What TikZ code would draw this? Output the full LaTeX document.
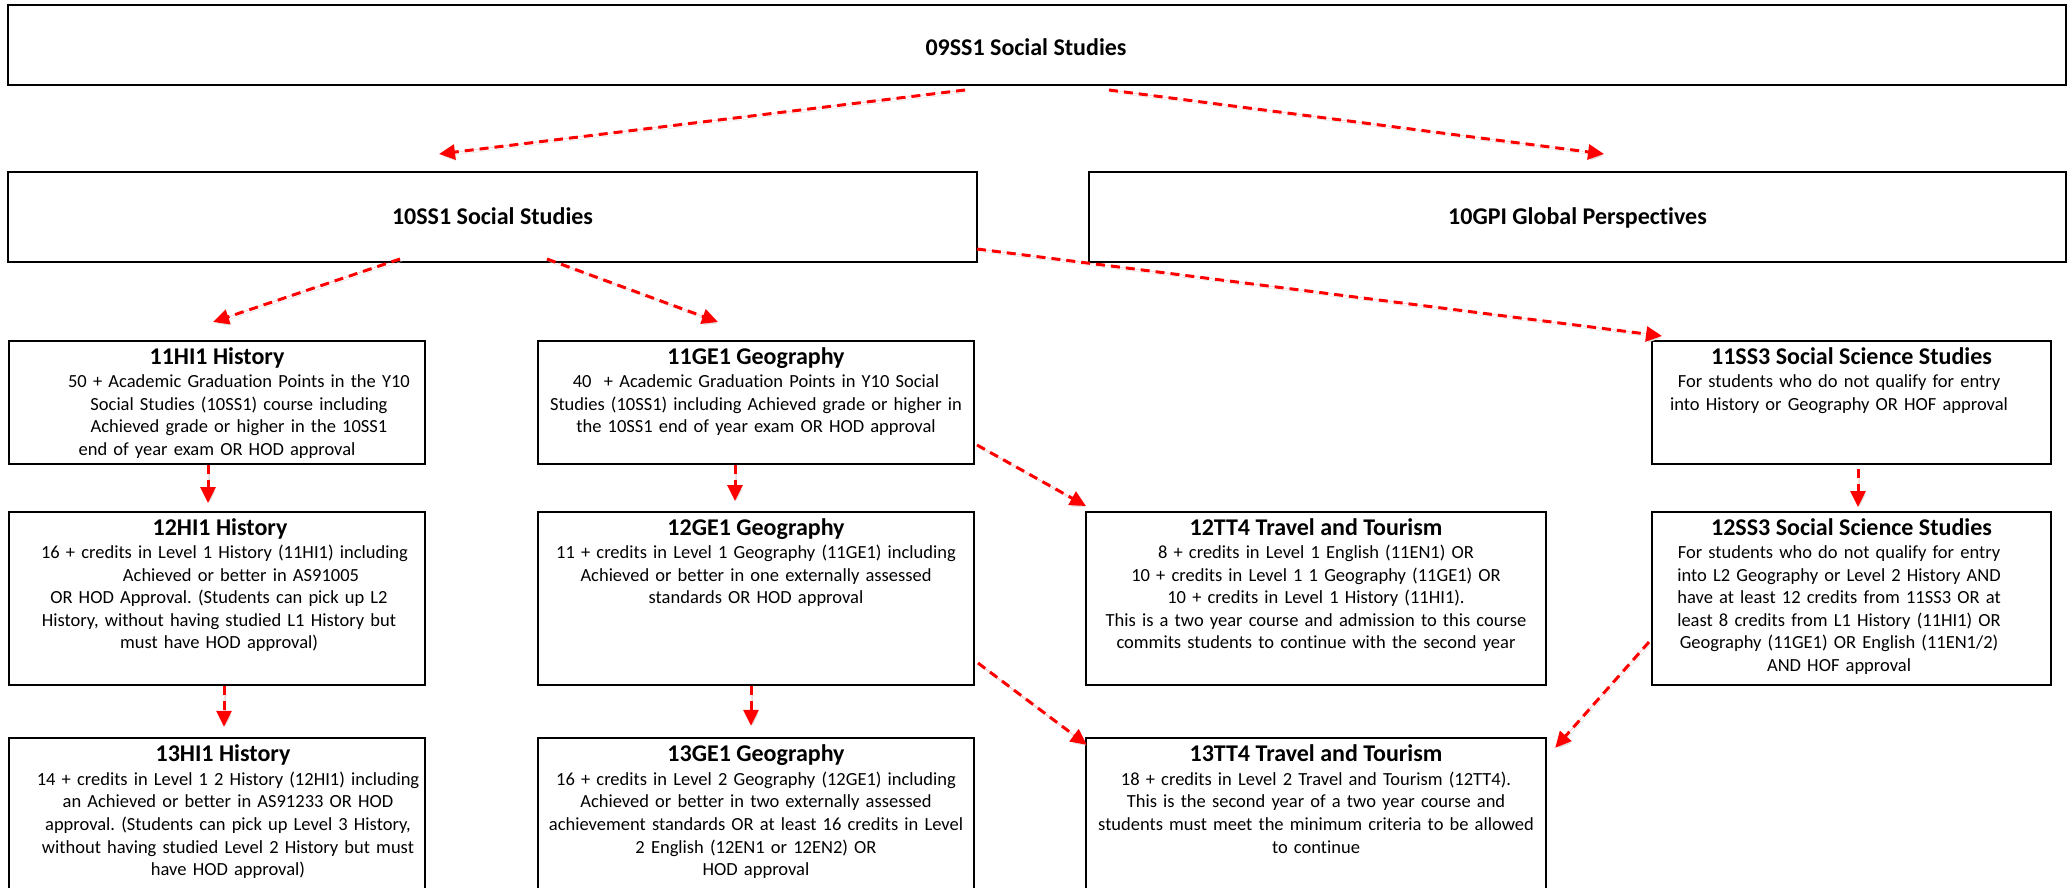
\documentclass[tikz,border=0pt]{standalone}
\usepackage{fontspec}
\setmainfont{Carlito}[Ligatures=NoCommon]
\usetikzlibrary{arrows.meta}
\frenchspacing
\begin{document}
\begin{tikzpicture}[x=1pt,y=-1pt,
  box/.style={draw=black,line width=2pt,rectangle,inner sep=0pt},
  openbox/.style={draw=none,rectangle,inner sep=0pt},
  sides/.style={draw=black,line width=2pt},
  ttl/.style={font=\fontsize{24}{29}\selectfont\bfseries,inner sep=0pt,anchor=base},
  bodytxt/.style={font=\fontsize{18.5}{22.6}\selectfont,inner sep=0pt,align=center,anchor=base,text width=#1},
  arr/.style={draw=red,fill=red,line width=3pt,dash pattern=on 9pt off 6pt,
    -{Triangle[length=16pt,width=15pt]},
    preaction={draw=black!13,transform canvas={shift={(1.5pt,-2.5pt)}}}}
]
\fill[white] (0,0) rectangle (2071,888);
\useasboundingbox (0,0) rectangle (2071,888);

% level 9/10
\node[box,minimum width=2058pt,minimum height=80pt] (top) at (1037,45) {};
\node[ttl] (topt) at ([xshift=-11pt,yshift=-11pt]top.center) {09SS1 Social Studies};
\node[box,minimum width=969pt,minimum height=90pt] (ss10) at (492.5,217) {};
\node[ttl] (ss10t) at ([yshift=-7.5pt]ss10.center) {10SS1 Social Studies};
\node[box,minimum width=977pt,minimum height=90pt] (gpi10) at (1577.5,217) {};
\node[ttl] (gpi10t) at ([yshift=-7.5pt]gpi10.center) {10GPI Global Perspectives};

% level 11
\node[box,minimum width=416pt,minimum height=123pt] (hi11) at (217,402.5) {};
\node[ttl] (hi11t) at ([yshift=-24pt]hi11.north) {11HI1 History};
\node[bodytxt=410pt] (hi11b) at ([xshift=22pt,yshift=-47.5pt]hi11.north) {50 + Academic Graduation Points in the Y10\\
Social Studies (10SS1) course including\\
Achieved grade or higher in the 10SS1\\
\hspace*{-44pt}end of year exam OR HOD approval};

\node[box,minimum width=436pt,minimum height=123pt] (ge11) at (756,402.5) {};
\node[ttl] (ge11t) at ([yshift=-24pt]ge11.north) {11GE1 Geography};
\node[bodytxt=430pt] (ge11b) at ([yshift=-47.5pt]ge11.north) {40~ + Academic Graduation Points in Y10 Social\\
Studies (10SS1) including Achieved grade or higher in\\
the 10SS1 end of year exam OR HOD approval};

\node[box,minimum width=399pt,minimum height=123pt] (ss11) at (1851.5,402.5) {};
\node[ttl] (ss11t) at ([yshift=-24pt]ss11.north) {11SS3 Social Science Studies};
\node[bodytxt=390pt] (ss11b) at ([xshift=-12.5pt,yshift=-47.5pt]ss11.north) {For students who do not qualify for entry\\
into History or Geography OR HOF approval};

% level 12
\node[box,minimum width=416pt,minimum height=173pt] (hi12) at (217,598.5) {};
\node[ttl] (hi12t) at ([xshift=3pt,yshift=-24pt]hi12.north) {12HI1 History};
\node[bodytxt=410pt] (hi12b) at ([xshift=2pt,yshift=-47.5pt]hi12.north) {\hspace*{11pt}16 + credits in Level 1 History (11HI1) including\\
\hspace*{44pt}Achieved or better in AS91005\\
OR HOD Approval. (Students can pick up L2\\
History, without having studied L1 History but\\
must have HOD approval)};

\node[box,minimum width=436pt,minimum height=173pt] (ge12) at (756,598.5) {};
\node[ttl] (ge12t) at ([yshift=-24pt]ge12.north) {12GE1 Geography};
\node[bodytxt=430pt] (ge12b) at ([yshift=-47.5pt]ge12.north) {11 + credits in Level 1 Geography (11GE1) including\\
Achieved or better in one externally assessed\\
standards OR HOD approval};

\node[box,minimum width=460pt,minimum height=173pt] (tt12) at (1316,598.5) {};
\node[ttl] (tt12t) at ([yshift=-24pt]tt12.north) {12TT4 Travel and Tourism};
\node[bodytxt=454pt] (tt12b) at ([yshift=-47.5pt]tt12.north) {8 + credits in Level 1 English (11EN1) OR\\
10 + credits in Level 1 1 Geography (11GE1) OR\\
10 + credits in Level 1 History (11HI1).\\
This is a two year course and admission to this course\\
commits students to continue with the second year};

\node[box,minimum width=399pt,minimum height=173pt] (ss12) at (1851.5,598.5) {};
\node[ttl] (ss12t) at ([yshift=-24pt]ss12.north) {12SS3 Social Science Studies};
\node[bodytxt=390pt] (ss12b) at ([xshift=-12.5pt,yshift=-47.5pt]ss12.north) {For students who do not qualify for entry\\
into L2 Geography or Level 2 History AND\\
have at least 12 credits from 11SS3 OR at\\
least 8 credits from L1 History (11HI1) OR\\
Geography (11GE1) OR English (11EN1/2)\\
AND HOF approval};

% level 13 (cut off at the bottom)
\node[openbox,minimum width=416pt,minimum height=150pt] (hi13) at (217,813) {};
\draw[sides] (hi13.south west) |- (hi13.north east) -- (hi13.south east);
\node[ttl] (hi13t) at ([xshift=6pt,yshift=-24pt]hi13.north) {13HI1 History};
\node[bodytxt=410pt] (hi13b) at ([xshift=11pt,yshift=-47.5pt]hi13.north) {14 + credits in Level 1 2 History (12HI1) including\\
an Achieved or better in AS91233 OR HOD\\
approval. (Students can pick up Level 3 History,\\
without having studied Level 2 History but must\\
have HOD approval)};

\node[openbox,minimum width=436pt,minimum height=150pt] (ge13) at (756,813) {};
\draw[sides] (ge13.south west) |- (ge13.north east) -- (ge13.south east);
\node[ttl] (ge13t) at ([yshift=-24pt]ge13.north) {13GE1 Geography};
\node[bodytxt=430pt] (ge13b) at ([yshift=-47.5pt]ge13.north) {16 + credits in Level 2 Geography (12GE1) including\\
Achieved or better in two externally assessed\\
achievement standards OR at least 16 credits in Level\\
2 English (12EN1 or 12EN2) OR\\
HOD approval};

\node[openbox,minimum width=460pt,minimum height=150pt] (tt13) at (1316,813) {};
\draw[sides] (tt13.south west) |- (tt13.north east) -- (tt13.south east);
\node[ttl] (tt13t) at ([yshift=-24pt]tt13.north) {13TT4 Travel and Tourism};
\node[bodytxt=454pt] (tt13b) at ([yshift=-47.5pt]tt13.north) {18 + credits in Level 2 Travel and Tourism (12TT4).\\
This is the second year of a two year course and\\
students must meet the minimum criteria to be allowed\\
to continue};

% connectors
\draw[arr] ([xshift=-72pt,yshift=-4pt]top.south) -- ([xshift=-53.5pt,yshift=17pt]ss10.north);
\draw[arr] ([xshift=72pt,yshift=-4pt]top.south) -- ([xshift=26.5pt,yshift=17pt]gpi10.north);
\draw[arr] ([xshift=-92.5pt,yshift=4pt]ss10.south) -- ([xshift=-4pt,yshift=18pt]hi11.north);
\draw[arr] ([xshift=54.5pt,yshift=4pt]ss10.south) -- ([xshift=-38pt,yshift=18pt]ge11.north);
\draw[arr] ([xshift=-1pt,yshift=-32pt]ss10.east) -- ([xshift=11pt,yshift=4pt]ss11.north west);
\draw[arr] ([xshift=-9pt]hi11.south) -- ([xshift=-9pt,yshift=8pt]hi12.north);
\draw[arr] ([xshift=7pt]hi12.south) -- ([xshift=7pt,yshift=11pt]hi13.north);
\draw[arr] ([xshift=-21pt]ge11.south) -- ([xshift=-21pt,yshift=10pt]ge12.north);
\draw[arr] ([xshift=-5pt]ge12.south) -- ([xshift=-5pt,yshift=12pt]ge13.north);
\draw[arr] ([xshift=2pt,yshift=-42.5pt]ge11.east) -- ([xshift=1pt,yshift=5pt]tt12.north west);
\draw[arr] ([xshift=3pt,yshift=-64.5pt]ge12.east) -- ([xshift=1pt,yshift=-7pt]tt13.north west);
\draw[arr] ([xshift=6.5pt,yshift=-4pt]ss11.south) -- ([xshift=6.5pt,yshift=4pt]ss12.north);
\draw[arr] ([xshift=-2pt,yshift=-43.5pt]ss12.west) -- ([xshift=9pt,yshift=-10pt]tt13.north east);
\end{tikzpicture}
\end{document}
